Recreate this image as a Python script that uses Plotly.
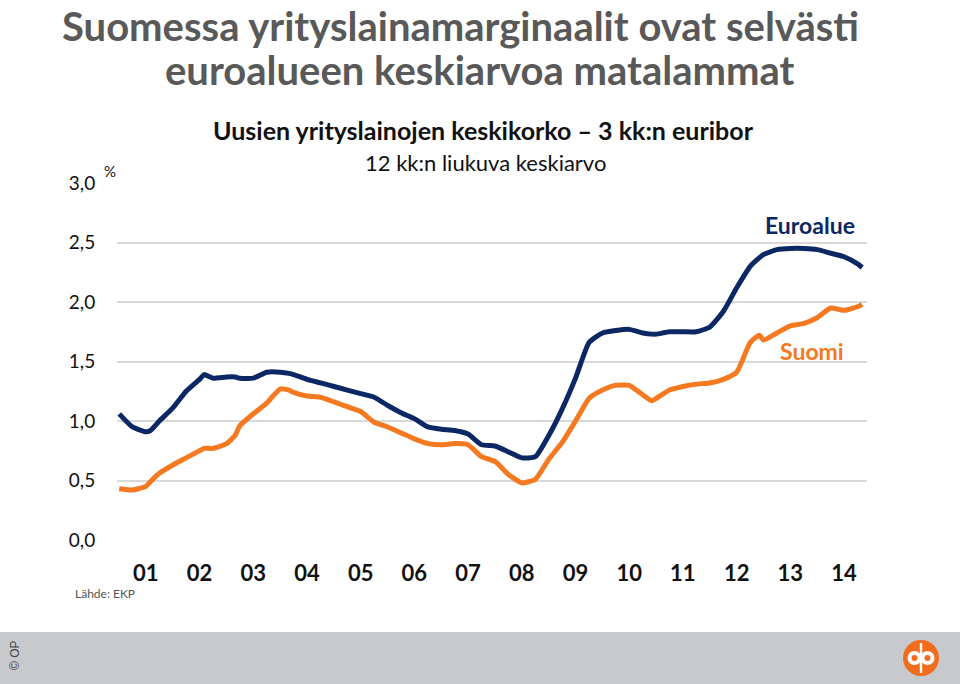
import plotly.graph_objects as go

dates = [
    "2001-01-01", "2001-04-01", "2001-07-01", "2001-08-01", "2001-10-01",
    "2002-01-01", "2002-04-01", "2002-07-01", "2002-08-01", "2002-10-01",
    "2003-01-01", "2003-03-01", "2003-04-01", "2003-07-01", "2003-10-01",
    "2004-01-01", "2004-03-01", "2004-04-01", "2004-07-01", "2004-10-01",
    "2005-01-01", "2005-04-01", "2005-07-01", "2005-10-01",
    "2006-01-01", "2006-04-01", "2006-07-01", "2006-10-01",
    "2007-01-01", "2007-04-01", "2007-07-01", "2007-10-01",
    "2008-01-01", "2008-04-01", "2008-07-01", "2008-10-01",
    "2009-01-01", "2009-04-01", "2009-07-01", "2009-10-01",
    "2010-01-01", "2010-04-01", "2010-07-01", "2010-10-01", "2010-12-01",
    "2011-01-01", "2011-04-01", "2011-07-01", "2011-10-01",
    "2012-01-01", "2012-04-01", "2012-07-01", "2012-10-01", "2012-12-01",
    "2013-01-01", "2013-04-01", "2013-07-01", "2013-10-01",
    "2014-01-01", "2014-04-01", "2014-07-01", "2014-10-01", "2014-11-01",
]

euroalue = [
    1.06, 0.95, 0.91, 0.92, 1.00,
    1.11, 1.25, 1.35, 1.39, 1.36,
    1.37, 1.37, 1.36, 1.36, 1.41,
    1.41, 1.40, 1.39, 1.35, 1.32,
    1.29, 1.26, 1.23, 1.20,
    1.13, 1.07, 1.02, 0.95,
    0.93, 0.92, 0.89, 0.80,
    0.79, 0.74, 0.69, 0.70,
    0.88, 1.10, 1.36, 1.66,
    1.74, 1.76, 1.77, 1.74, 1.73,
    1.73, 1.75, 1.75, 1.75,
    1.79, 1.92, 2.12, 2.30, 2.37,
    2.40, 2.44, 2.45, 2.45,
    2.44, 2.41, 2.38, 2.32, 2.29,
]

suomi = [
    0.43, 0.42, 0.45, 0.49, 0.56,
    0.63, 0.69, 0.75, 0.77, 0.77,
    0.81, 0.88, 0.96, 1.06, 1.15,
    1.27, 1.26, 1.24, 1.21, 1.20,
    1.16, 1.12, 1.08, 0.99,
    0.95, 0.90, 0.85, 0.81,
    0.80, 0.81, 0.80, 0.70,
    0.66, 0.55, 0.48, 0.51,
    0.68, 0.82, 1.00, 1.19,
    1.26, 1.30, 1.30, 1.22, 1.17,
    1.19, 1.26, 1.29, 1.31,
    1.32, 1.35, 1.41, 1.66, 1.72,
    1.68, 1.74, 1.80, 1.82,
    1.87, 1.95, 1.93, 1.96, 1.98,
]

year_ticks = ["%d-07-01" % y for y in range(2001, 2015)]
year_labels = ["01", "02", "03", "04", "05", "06", "07", "08", "09", "10", "11", "12", "13", "14"]

NAVY = "#0c2864"
ORANGE = "#f47920"

fig = go.Figure()
fig.add_trace(go.Scatter(x=dates, y=euroalue, mode="lines", name="Euroalue",
                         line=dict(color=NAVY, width=5, shape="spline", smoothing=0.5)))
fig.add_trace(go.Scatter(x=dates, y=suomi, mode="lines", name="Suomi",
                         line=dict(color=ORANGE, width=5, shape="spline", smoothing=0.5)))

L, R, T, B = 117, 93, 183, 144
PW, PH = 960 - L - R, 684 - T - B


def px(x):
    return (x - L) / PW


def py(y):
    return (684 - B - y) / PH


fig.update_layout(
    width=960, height=684,
    margin=dict(l=L, r=R, t=T, b=B),
    paper_bgcolor="white", plot_bgcolor="white",
    showlegend=False,
    separators=", ",
    font=dict(family="Lato", color="#1a1a1a"),
    xaxis=dict(
        type="date", range=["2000-12-17", "2014-12-04"],
        tickvals=year_ticks, ticktext=year_labels,
        tickfont=dict(family="Lato", size=22, color="#111111", weight="bold"),
        showgrid=False, zeroline=False, showline=False,
        ticks="outside", ticklen=14, tickcolor="rgba(0,0,0,0)",
    ),
    yaxis=dict(
        range=[0, 3], dtick=0.5, tickformat=".1f",
        tickfont=dict(family="Lato", size=19, color="#111111"),
        showgrid=True, gridcolor="#d9d9d9", gridwidth=1.5,
        zeroline=False, showline=False,
        ticks="outside", ticklen=17, tickcolor="rgba(0,0,0,0)",
    ),
)

# bottom grey band
fig.add_shape(type="rect", xref="paper", yref="paper",
              x0=px(0), x1=px(960), y0=py(632), y1=py(684),
              fillcolor="#c8c9cc", line=dict(width=0), layer="below")

# OP logo
cx, cy = px(921), py(658)
fig.add_shape(type="circle", xref="paper", yref="paper", xsizemode="pixel", ysizemode="pixel",
              xanchor=cx, yanchor=cy, x0=-18, x1=18, y0=-18, y1=18,
              fillcolor="#f26c1d", line=dict(width=0))
for dx in (-6.5, 6.5):
    fig.add_shape(type="circle", xref="paper", yref="paper", xsizemode="pixel", ysizemode="pixel",
                  xanchor=cx, yanchor=cy, x0=dx - 7, x1=dx + 7, y0=-7, y1=7,
                  fillcolor="white", line=dict(width=0))
    fig.add_shape(type="circle", xref="paper", yref="paper", xsizemode="pixel", ysizemode="pixel",
                  xanchor=cx, yanchor=cy, x0=dx - 3, x1=dx + 3, y0=-3, y1=3,
                  fillcolor="#f26c1d", line=dict(width=0))
fig.add_shape(type="rect", xref="paper", yref="paper", xsizemode="pixel", ysizemode="pixel",
              xanchor=cx, yanchor=cy, x0=-1.2, x1=1.2, y0=-15, y1=15,
              fillcolor="white", line=dict(width=0))

ann = [
    dict(text="Suomessa yrityslainamarginaalit ovat selvästi", x=px(460), y=py(0), yanchor="top",
         font=dict(size=40, color="#595959", weight="bold")),
    dict(text="euroalueen keskiarvoa matalammat", x=px(480), y=py(70),
         font=dict(size=40, color="#595959", weight="bold")),
    dict(text="Uusien yrityslainojen keskikorko – 3 kk:n euribor", x=px(483), y=py(130),
         font=dict(size=25, color="#111111", weight="bold")),
    dict(text="12 kk:n liukuva keskiarvo", x=px(485), y=py(162),
         font=dict(size=22, color="#111111")),
    dict(text="%", x=px(110), y=py(171), font=dict(size=15, color="#111111")),
    dict(text="Euroalue", x=px(810), y=py(225), font=dict(size=23, color=NAVY, weight="bold")),
    dict(text="Suomi", x=px(812), y=py(351), font=dict(size=23, color=ORANGE, weight="bold")),
    dict(text="Lähde: EKP", x=px(105), y=py(593), font=dict(size=12, color="#555555")),
    dict(text="© OP", x=px(15), y=py(655), textangle=-90, font=dict(size=12, color="#444444", family="Liberation Sans")),
]
for a in ann:
    a.setdefault("yanchor", "middle")
    fig.add_annotation(xref="paper", yref="paper", showarrow=False,
                       xanchor="center", **a)

fig.write_html("out.html", config={"displayModeBar": False},
               post_script="document.body.style.margin='0';document.body.style.overflow='hidden';")
